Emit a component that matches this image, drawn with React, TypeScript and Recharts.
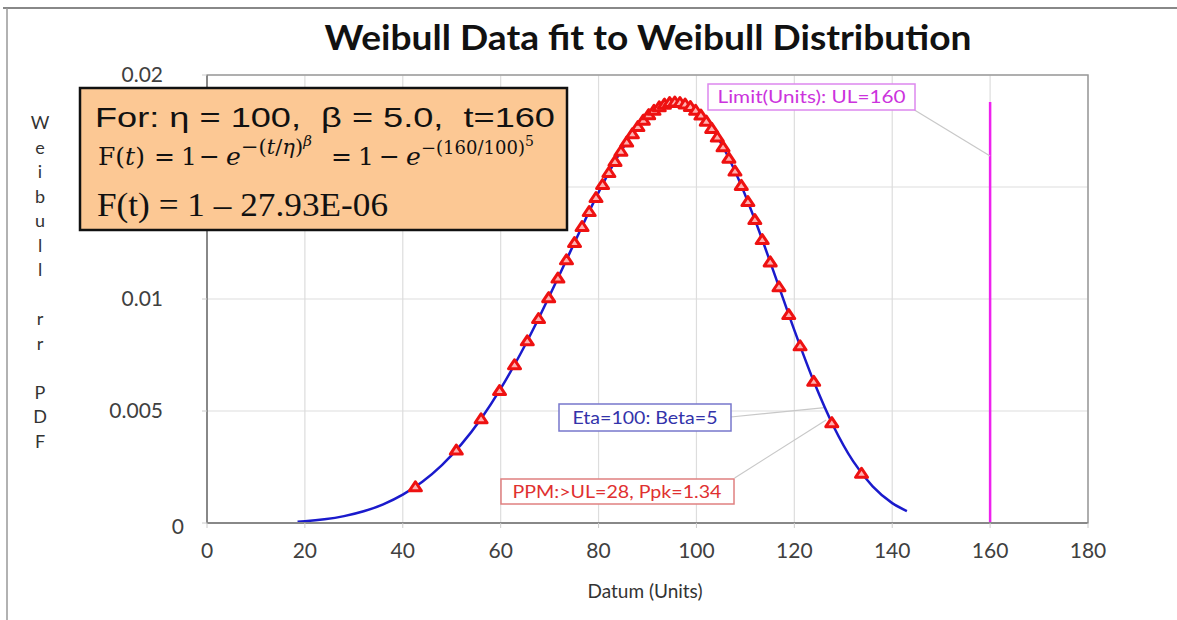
import {
  CartesianGrid,
  ComposedChart,
  Line,
  ReferenceArea,
  ReferenceLine,
  Scatter,
  XAxis,
  YAxis,
} from "recharts";

// data points (sorted sample) and the fitted pdf
const sampleTimes = [
  42.58, 50.94, 56.0, 59.77, 62.83, 65.44, 67.74, 69.81, 71.7, 73.45, 75.09,
  76.63, 78.09, 79.48, 80.82, 82.11, 83.36, 84.57, 85.75, 86.91, 88.04, 89.15,
  90.24, 91.33, 92.4, 93.46, 94.52, 95.58, 96.63, 97.69, 98.76, 99.83, 100.91,
  102.01, 103.12, 104.26, 105.43, 106.63, 107.87, 109.16, 110.51, 111.93,
  113.44, 115.07, 116.86, 118.86, 121.17, 123.96, 127.65, 133.73,
];
const samplePdf = [
  0.00162, 0.003254, 0.004653, 0.00591, 0.007064, 0.008133, 0.009129, 0.010061,
  0.010933, 0.011751, 0.012517, 0.013235, 0.013905, 0.014531, 0.015112,
  0.015649, 0.016143, 0.016595, 0.017005, 0.017372, 0.017699, 0.017984,
  0.018228, 0.018426, 0.018584, 0.018699, 0.018769, 0.018793, 0.018774,
  0.018706, 0.01859, 0.018425, 0.018209, 0.01794, 0.017615, 0.017234, 0.016792,
  0.016287, 0.015715, 0.015071, 0.01435, 0.013546, 0.012651, 0.011656,
  0.010547, 0.009306, 0.007912, 0.006324, 0.004478, 0.002221,
];

const curveTimes = [
  18.5, 20, 24, 28, 32, 36, 40, 44, 48, 52, 56, 60, 64, 68, 72, 76, 80, 84, 88,
  92, 96, 100, 104, 108, 112, 116, 120, 124, 128, 132, 136, 140, 143,
];
const curvePdf = [
  0.0000586, 0.00008, 0.0001658, 0.0003068, 0.0005225, 0.0008347, 0.001267,
  0.0018434, 0.0025874, 0.0035194, 0.0046537, 0.0059952, 0.0075346, 0.0092439,
  0.011073, 0.012946, 0.014758, 0.016385, 0.017689, 0.01853, 0.018791,
  0.018394, 0.017327, 0.015651, 0.013504, 0.01108, 0.0086098, 0.0063027,
  0.0043213, 0.0027595, 0.0016315, 0.00088671, 0.000529,
];

const xTicks = [0, 20, 40, 60, 80, 100, 120, 140, 160, 180];
const yTicks = [0, 0.005, 0.01, 0.015, 0.02];
// 0.015 label sits under the note box in the original, so it is not shown
const hiddenYLabels = [0.015];

const limitValue = 160;
const limitTop = 0.0188;

const yLabelLetters = ["W", "e", "i", "b", "u", "l", "l", "", "r", "r", "", "P", "D", "F"];

const sampleData = sampleTimes.map((t, i) => ({ t, pdf: samplePdf[i] }));
const curveData = curveTimes.map((t, i) => ({ t, pdf: curvePdf[i] }));

const tickFont = "Lato, 'Open Sans', sans-serif";
const mathFont = "'DejaVu Serif', 'Liberation Serif', serif";

function Triangle(props: any) {
  const { cx, cy } = props;
  return (
    <polygon
      points={`${cx - 6},${cy + 4} ${cx + 6},${cy + 4} ${cx},${cy - 5}`}
      fill="#ffb0b0"
      stroke="#ee1111"
      strokeWidth={3}
      strokeLinejoin="round"
    />
  );
}

function YTick(props: any) {
  const { x, y, payload } = props;
  const v = payload.value;
  if (hiddenYLabels.includes(v)) return <g />;
  return (
    <text
      x={v === 0 ? x + 21 : x}
      y={v === 0 ? y + 4 : y}
      dy="0.355em"
      textAnchor="end"
      fill="#404040"
      fontSize={21}
      fontFamily={tickFont}
    >
      {String(v)}
    </text>
  );
}

// baselines of the formula line in the note box
const fBase = 165;
const fSup = 154;
const fSup2 = 146;

export default function App() {
  return (
    <div style={{ position: "absolute", left: 0, top: 0, width: 1177, height: 620, background: "#fff" }}>
      <ComposedChart
        width={1177}
        height={620}
        margin={{ top: 75, right: 89, bottom: 57, left: 147 }}
      >
        <CartesianGrid stroke="#dddddd" strokeWidth={1.2} />
        <ReferenceArea x1={0} x2={180} y1={0} y2={0.02} fill="none" stroke="#9a9a9a" strokeWidth={1.5} />
        <XAxis
          dataKey="t"
          type="number"
          domain={[0, 180]}
          ticks={xTicks}
          height={40}
          axisLine={{ stroke: "#888", strokeWidth: 2 }}
          tickLine={{ stroke: "#cccccc" }}
          tickSize={5}
          tickMargin={15}
          tick={{ fill: "#404040", fontSize: 21, fontFamily: tickFont }}
        />
        <YAxis
          dataKey="pdf"
          type="number"
          domain={[0, 0.02]}
          ticks={yTicks}
          width={60}
          axisLine={{ stroke: "#888", strokeWidth: 2 }}
          tickLine={{ stroke: "#cccccc" }}
          tickSize={5}
          tickMargin={39}
          tick={<YTick />}
        />
        <ReferenceLine
          segment={[{ x: limitValue, y: 0 }, { x: limitValue, y: limitTop }]}
          stroke="#ee22ee"
          strokeWidth={2.5}
        />
        <ReferenceLine
          segment={[{ x: 144.55, y: 0.018437 }, { x: limitValue, y: 0.01638 }]}
          stroke="#c8c8c8"
          strokeWidth={1.2}
        />
        <ReferenceLine
          segment={[{ x: 107.0, y: 0.004732 }, { x: 126.2, y: 0.00515 }]}
          stroke="#c8c8c8"
          strokeWidth={1.2}
        />
        <ReferenceLine
          segment={[{ x: 107.8, y: 0.002009 }, { x: 126.5, y: 0.0046 }]}
          stroke="#c8c8c8"
          strokeWidth={1.2}
        />
        <Scatter
          data={sampleData}
          dataKey="pdf"
          shape={<Triangle />}
          isAnimationActive={false}
        />
        <Line
          data={curveData}
          dataKey="pdf"
          type="monotone"
          stroke="#1a1acc"
          strokeWidth={2.5}
          dot={false}
          isAnimationActive={false}
        />
      </ComposedChart>

      <svg
        width={1177}
        height={620}
        style={{ position: "absolute", left: 0, top: 0, pointerEvents: "none" }}
      >
        <line x1={3} y1={8} x2={1177} y2={8} stroke="#888" strokeWidth={2} />
        <line x1={7} y1={8} x2={7} y2={620} stroke="#999" strokeWidth={1.5} />

        <text
          x={648}
          y={50}
          textAnchor="middle"
          fontFamily={tickFont}
          fontWeight="bold"
          fontSize={35}
          textLength={647}
          lengthAdjust="spacingAndGlyphs"
          fill="#111"
        >
          Weibull Data fit to Weibull Distribution
        </text>

        {yLabelLetters.map((ch, i) => (
          <text
            key={i}
            x={40}
            y={129 + i * 24.5}
            textAnchor="middle"
            fontFamily={tickFont}
            fontSize={18}
            fill="#333"
          >
            {ch}
          </text>
        ))}

        <text x={645} y={598} textAnchor="middle" fontFamily={tickFont} fontSize={19} fill="#333">
          Datum (Units)
        </text>

        <rect x={80} y={88} width={487} height={142} fill="#fcc894" stroke="#111" strokeWidth={2.5} />
        <text
          x={95}
          y={127}
          fontFamily="'Liberation Sans', Arial, sans-serif"
          fontSize={28}
          fill="#111"
          textLength={460}
          lengthAdjust="spacingAndGlyphs"
          style={{ whiteSpace: "pre" }}
        >
          {"For: η = 100,  β = 5.0,  t=160"}
        </text>
        <text fontFamily={mathFont} fontSize={25} fill="#111">
          <tspan x={98} y={fBase}>F(</tspan>
          <tspan fontStyle="italic">t</tspan>
          <tspan>)</tspan>
          <tspan x={154} y={fBase}>=</tspan>
          <tspan x={181} y={fBase}>1</tspan>
          <tspan x={199} y={fBase}>−</tspan>
          <tspan x={226} y={fBase} fontStyle="italic">e</tspan>
          <tspan x={241} y={fSup} fontSize={21}>−(</tspan>
          <tspan fontSize={21} fontStyle="italic">t</tspan>
          <tspan fontSize={21}>/</tspan>
          <tspan fontSize={21} fontStyle="italic">η</tspan>
          <tspan fontSize={21}>)</tspan>
          <tspan y={fSup2} fontSize={15} fontStyle="italic">β</tspan>
          <tspan x={331} y={fBase}>=</tspan>
          <tspan x={358} y={fBase}>1</tspan>
          <tspan x={379} y={fBase}>−</tspan>
          <tspan x={406} y={fBase} fontStyle="italic">e</tspan>
          <tspan x={421} y={fSup} fontSize={18}>−(160/100)</tspan>
          <tspan y={fSup2} fontSize={14}>5</tspan>
        </text>
        <text
          x={97}
          y={216}
          fontFamily="'Liberation Serif', 'DejaVu Serif', serif"
          fontSize={34}
          fill="#111"
          textLength={291}
          lengthAdjust="spacingAndGlyphs"
        >
          F(t) = 1 – 27.93E-06
        </text>

        <rect x={708} y={84} width={207} height={26} fill="#fff" stroke="#dd88ee" strokeWidth={1.5} />
        <text x={811.5} y={103} textAnchor="middle" fontFamily={tickFont} fontSize={17} fill="#cc33dd" textLength={188} lengthAdjust="spacingAndGlyphs">
          Limit(Units): UL=160
        </text>

        <rect x={559} y={404} width={172} height={27} fill="#fff" stroke="#7777cc" strokeWidth={1.5} />
        <text x={645} y={424} textAnchor="middle" fontFamily={tickFont} fontSize={17} fill="#3333aa" textLength={145} lengthAdjust="spacingAndGlyphs">
          Eta=100: Beta=5
        </text>

        <rect x={501} y={479} width={233} height={25} fill="#fff" stroke="#e08080" strokeWidth={1.5} />
        <text x={617} y={498} textAnchor="middle" fontFamily={tickFont} fontSize={17} fill="#e03030" textLength={209} lengthAdjust="spacingAndGlyphs">
          PPM:&gt;UL=28, Ppk=1.34
        </text>
      </svg>
    </div>
  );
}
